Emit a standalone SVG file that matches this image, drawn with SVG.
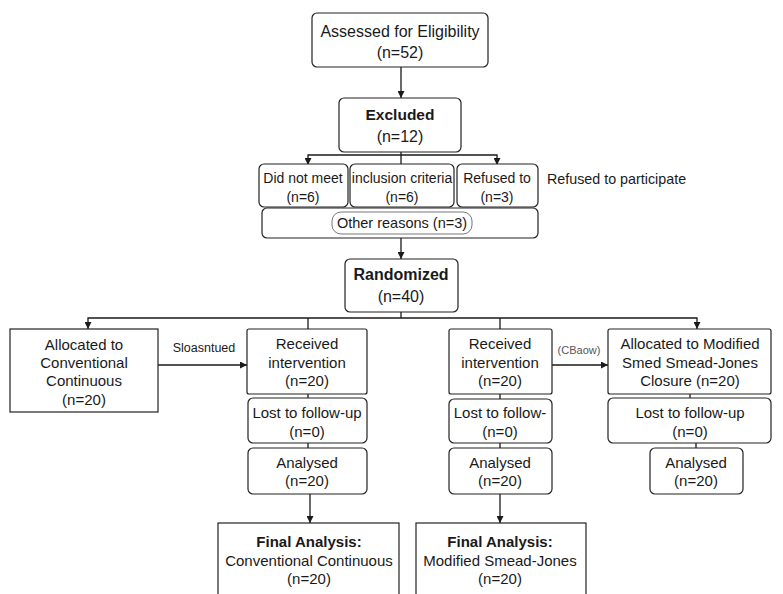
<svg xmlns="http://www.w3.org/2000/svg" width="783" height="594" viewBox="0 0 783 594">
<defs>
<marker id="ah" viewBox="0 0 10 10" refX="10" refY="5" markerWidth="7" markerHeight="7" orient="auto" markerUnits="userSpaceOnUse"><path d="M0,0 L10,5 L0,10 z" fill="#1a1a1a"/></marker>
<style>
.b{fill:#fff;stroke:#222;stroke-width:1.2}
.t{font-family:"Liberation Sans",Arial,sans-serif;font-size:15px;fill:#1a1a1a;text-anchor:middle}
.s{font-size:14px}
.l{font-size:16px}
.bold{font-weight:bold}
.c{fill:none;stroke:#1a1a1a;stroke-width:1.3}
.a{marker-end:url(#ah)}
</style>
</defs>
<rect width="783" height="594" fill="#fff"/>
<g id="connectors">
<path class="c a" d="M401,67 V98"/>
<path class="c" d="M401,152 V164"/>
<path class="c a" d="M401,155 H308 V165"/>
<path class="c a" d="M401,155 H497 V165"/>
<path class="c a" d="M401,238 V259"/>
<path class="c" d="M401,312 V318"/>
<path class="c a" d="M401,318 H88 V329"/>
<path class="c a" d="M401,318 H697 V329"/>
<path class="c" d="M308,318 V329"/>
<path class="c" d="M500,318 V329"/>
<path class="c a" d="M158,365 H247"/>
<path class="c a" d="M552,365 H608"/>
<path class="c" d="M308,394 V398"/>
<path class="c" d="M308,443 V448"/>
<path class="c" d="M500,394 V399"/>
<path class="c" d="M500,443 V448"/>
<path class="c" d="M690,394 V398"/>
<path class="c" d="M696,443 V448"/>
<path class="c a" d="M310,494 V523"/>
<path class="c a" d="M500,494 V523"/>
<text class="t" x="204" y="352" style="font-size:12.5px">Sloasntued</text>
<text class="t" x="579" y="354" style="font-size:11px;fill:#555">(CBaow)</text>
</g>
<g id="assessed">
<rect class="b" x="312" y="13" width="176" height="54" rx="5"/>
<text class="t l" x="400" y="37">Assessed for Eligibility</text>
<text class="t l" x="400" y="58">(n=52)</text>
</g>
<g id="excluded">
<rect class="b" x="339" y="98" width="122" height="54" rx="5"/>
<text class="t bold" x="400" y="120" style="font-size:15.5px">Excluded</text>
<text class="t l" x="400" y="142">(n=12)</text>
</g>
<g id="did-not-meet">
<rect class="b" x="259" y="164" width="89" height="43" rx="5"/>
<text class="t s" x="303" y="183">Did not meet</text>
<text class="t s" x="303" y="202">(n=6)</text>
</g>
<g id="inclusion">
<rect class="b" x="350" y="164" width="104" height="43" rx="5"/>
<text class="t s" x="402" y="183">inclusion criteria</text>
<text class="t s" x="402" y="202">(n=6)</text>
</g>
<g id="refused">
<rect class="b" x="457" y="164" width="81" height="43" rx="5"/>
<text class="t s" x="497" y="183">Refused to</text>
<text class="t s" x="497" y="202">(n=3)</text>
</g>
<g id="refused-note">
<text class="t" x="547" y="184" style="text-anchor:start;font-size:14.3px">Refused to participate</text>
</g>
<g id="other">
<rect class="b" x="262" y="208" width="276" height="30" rx="5"/>
<rect class="b" x="332" y="212" width="140" height="22" rx="9" style="stroke-width:0.8;stroke:#555"/>
<text class="t" x="402" y="228" style="font-size:14.5px">Other reasons (n=3)</text>
</g>
<g id="randomized">
<rect class="b" x="345" y="259" width="113" height="53" rx="5"/>
<text class="t bold l" x="401" y="280">Randomized</text>
<text class="t l" x="401" y="302">(n=40)</text>
</g>
<g id="alloc-conv">
<rect class="b" x="10" y="329" width="148" height="83"/>
<text class="t" x="84" y="350">Allocated to</text>
<text class="t" x="84" y="368">Conventional</text>
<text class="t" x="84" y="386">Continuous</text>
<text class="t" x="84" y="405">(n=20)</text>
</g>
<g id="received-left">
<rect class="b" x="247" y="329" width="120" height="65" rx="2"/>
<text class="t" x="307" y="349">Received</text>
<text class="t" x="307" y="368">intervention</text>
<text class="t" x="307" y="386">(n=20)</text>
</g>
<g id="lost-left">
<rect class="b" x="248" y="398" width="119" height="45" rx="5"/>
<text class="t" x="307" y="418">Lost to follow-up</text>
<text class="t" x="307" y="437">(n=0)</text>
</g>
<g id="analysed-left">
<rect class="b" x="248" y="448" width="119" height="46" rx="5"/>
<text class="t" x="307" y="468">Analysed</text>
<text class="t" x="307" y="486">(n=20)</text>
</g>
<g id="final-left">
<rect class="b" x="218" y="523" width="181" height="80"/>
<text class="t bold" x="309" y="547">Final Analysis:</text>
<text class="t" x="309" y="566">Conventional Continuous</text>
<text class="t" x="309" y="584">(n=20)</text>
</g>
<g id="received-right">
<rect class="b" x="449" y="329" width="103" height="65" rx="2"/>
<text class="t" x="500" y="349">Received</text>
<text class="t" x="500" y="368">intervention</text>
<text class="t" x="500" y="386">(n=20)</text>
</g>
<g id="lost-right">
<rect class="b" x="449" y="399" width="103" height="44" rx="5"/>
<text class="t" x="500" y="418">Lost to follow-</text>
<text class="t" x="500" y="437">(n=0)</text>
</g>
<g id="analysed-right">
<rect class="b" x="449" y="448" width="103" height="46" rx="5"/>
<text class="t" x="500" y="468">Analysed</text>
<text class="t" x="500" y="486">(n=20)</text>
</g>
<g id="final-right">
<rect class="b" x="416" y="523" width="170" height="80"/>
<text class="t bold" x="500" y="547">Final Analysis:</text>
<text class="t" x="500" y="566">Modified Smead-Jones</text>
<text class="t" x="500" y="584">(n=20)</text>
</g>
<g id="alloc-mod">
<rect class="b" x="608" y="329" width="163" height="65" rx="2"/>
<text class="t" x="690" y="349">Allocated to Modified</text>
<text class="t" x="690" y="368">Smed Smead-Jones</text>
<text class="t" x="690" y="386">Closure (n=20)</text>
</g>
<g id="lost-mod">
<rect class="b" x="608" y="398" width="163" height="45" rx="5"/>
<text class="t" x="690" y="418">Lost to follow-up</text>
<text class="t" x="690" y="437">(n=0)</text>
</g>
<g id="analysed-mod">
<rect class="b" x="650" y="448" width="93" height="46" rx="5"/>
<text class="t" x="696" y="468">Analysed</text>
<text class="t" x="696" y="486">(n=20)</text>
</g>
</svg>
